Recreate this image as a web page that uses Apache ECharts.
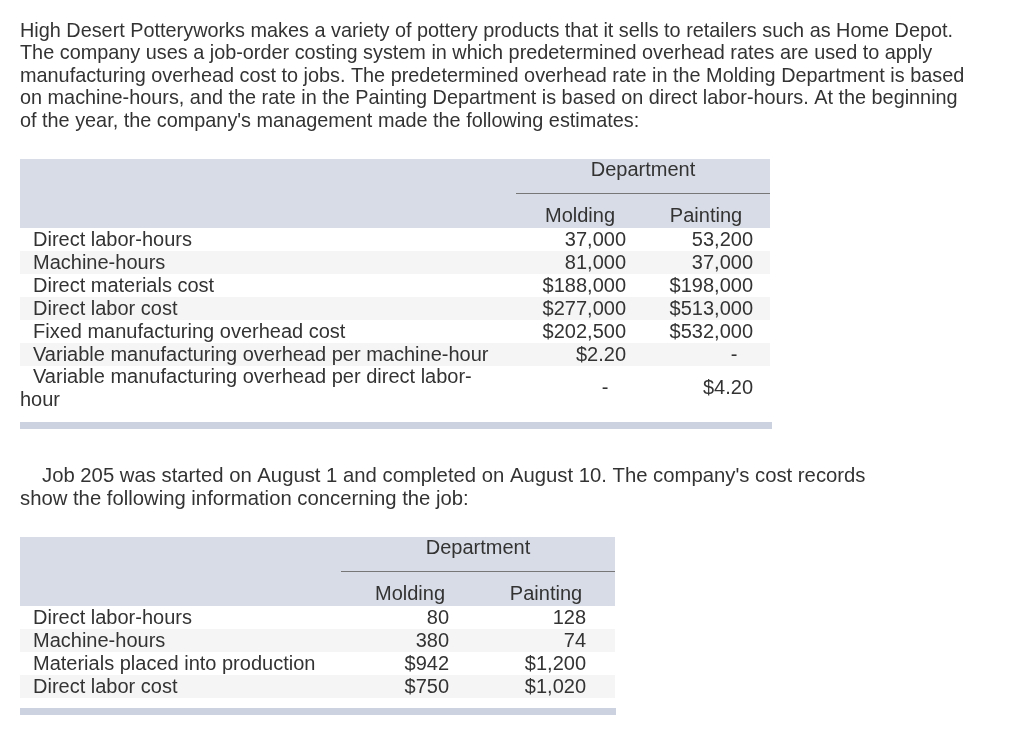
<!DOCTYPE html>
<html><head><meta charset="utf-8">
<script src="https://cdn.jsdelivr.net/npm/echarts@6/dist/echarts.min.js"></script>
<style>html,body{margin:0;padding:0;background:#fff}#c{width:1012px;height:741px}</style>
</head><body><div id="c"></div>
<script>
const introLines = [
  "High Desert Potteryworks makes a variety of pottery products that it sells to retailers such as Home Depot.",
  "The company uses a job-order costing system in which predetermined overhead rates are used to apply",
  "manufacturing overhead cost to jobs. The predetermined overhead rate in the Molding Department is based",
  "on machine-hours, and the rate in the Painting Department is based on direct labor-hours. At the beginning",
  "of the year, the company's management made the following estimates:"
];
const deptTitle = "Department";
const deptCols = ["Molding", "Painting"];
const estLabels = [
  "Direct labor-hours",
  "Machine-hours",
  "Direct materials cost",
  "Direct labor cost",
  "Fixed manufacturing overhead cost",
  "Variable manufacturing overhead per machine-hour",
  "Variable manufacturing overhead per direct labor-"
];
const estLabelWrap = "hour";
const estMolding = ["37,000", "81,000", "$188,000", "$277,000", "$202,500", "$2.20", "-"];
const estPainting = ["53,200", "37,000", "$198,000", "$513,000", "$532,000", "-", "$4.20"];
const jobLines = [
  "Job 205 was started on August 1 and completed on August 10. The company's cost records",
  "show the following information concerning the job:"
];
const jobLabels = ["Direct labor-hours", "Machine-hours", "Materials placed into production", "Direct labor cost"];
const jobMolding = ["80", "380", "$942", "$750"];
const jobPainting = ["128", "74", "$1,200", "$1,020"];

const FAM = '"Liberation Sans", Arial, sans-serif';
const TXT = '#333333';
const HDR = '#d8dce6';
const STRIPE = '#f5f5f5';
const BAR = '#ccd2df';
const g = [];
function text(s, x, y, align, size) {
  g.push({type: 'text', silent: true, style: {text: s, x: x, y: y, font: (size || 20) + 'px ' + FAM, fill: TXT,
    align: align || 'left', verticalAlign: 'middle', textAlign: align || 'left', textVerticalAlign: 'middle'}});
}
function rect(x, y, w, h, c) {
  g.push({type: 'rect', silent: true, shape: {x: x, y: y, width: w, height: h}, style: {fill: c}});
}
function line(x1, y1, x2, y2, c) {
  g.push({type: 'line', silent: true, shape: {x1: x1, y1: y1, x2: x2, y2: y2}, style: {stroke: c, lineWidth: 1}});
}

// intro paragraph
introLines.forEach((s, i) => text(s, 20, 31.5 + i * 22.5, 'left', 19.85));

// Table 1
rect(20, 159, 750, 69, HDR);
line(516, 193.5, 770, 193.5, '#777777');
text(deptTitle, 643, 170.5, 'center');
text(deptCols[0], 580, 216.5, 'center');
text(deptCols[1], 706, 216.5, 'center');
const rowH = 23, top1 = 228;
estLabels.forEach((lab, i) => {
  const y0 = top1 + i * rowH;
  if (i % 2 === 1) rect(20, y0, 750, rowH, STRIPE);
  if (i < 6) {
    text(lab, 33, y0 + 12);
    text(estMolding[i], 626, y0 + 12, estMolding[i] === '-' ? 'center' : 'right');
    text(estPainting[i], estPainting[i] === '-' ? 734 : 753, y0 + 12, estPainting[i] === '-' ? 'center' : 'right');
  } else {
    text(lab, 33, 377.5);
    text(estLabelWrap, 20, 400.5);
    text(estMolding[i], estMolding[i] === '-' ? 605 : 626, 388.5, estMolding[i] === '-' ? 'center' : 'right');
    text(estPainting[i], 753, 388.5, 'right');
  }
});
rect(20, 422, 752, 7, BAR);

// Job paragraph
jobLines.forEach((s, i) => text(s, i === 0 ? 42 : 20, 476.5 + i * 23, 'left', 20.3));

// Table 2
rect(20, 537, 595, 69, HDR);
line(341, 571.5, 615, 571.5, '#777777');
text(deptTitle, 478, 548.5, 'center');
text(deptCols[0], 410, 594.5, 'center');
text(deptCols[1], 546, 594.5, 'center');
const top2 = 606;
jobLabels.forEach((lab, i) => {
  const y0 = top2 + i * rowH;
  if (i % 2 === 1) rect(20, y0, 595, rowH, STRIPE);
  text(lab, 33, y0 + 12);
  text(jobMolding[i], 449, y0 + 12, 'right');
  text(jobPainting[i], 586, y0 + 12, 'right');
});
rect(20, 708, 596, 7, BAR);

const chart = echarts.init(document.getElementById('c'), null, {renderer: 'canvas'});
chart.setOption({animation: false, graphic: {elements: g}});
</script></body></html>
